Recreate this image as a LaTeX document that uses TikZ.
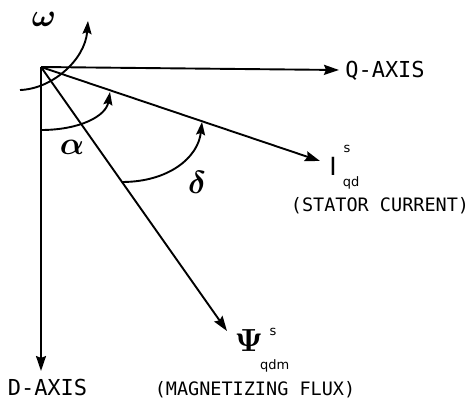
\documentclass[tikz,border=0pt]{standalone}
\usepackage{fontspec}
\usepackage{amsmath}
\usepackage{graphicx}
\setmainfont{DejaVu Sans}
\newfontfamily\plotfont{DejaVu Sans Mono}
\newcommand{\bigsym}[1]{\scalebox{3.2}{$\boldsymbol{#1}$}}
\usetikzlibrary{arrows.meta}
\begin{document}
\begin{tikzpicture}[x=1pt,y=-1pt,
  vec/.style={line width=1.9pt,-{Stealth[length=15pt,width=10pt,inset=2pt]}},
  turn/.style={line width=1.9pt,-{Stealth[length=13pt,width=9pt,inset=2pt]}},
  lbl/.style={inner sep=0pt,font=\plotfont\fontsize{18.5}{20}\selectfont},
  axl/.style={inner sep=0pt,font=\plotfont\fontsize{22}{24}\selectfont},
  sym/.style={inner sep=0pt,font=\fontsize{10}{12}\selectfont},
  sub/.style={inner sep=0pt,font=\fontsize{13}{14}\selectfont}]
\useasboundingbox (0,0) rectangle (468,403);
% points
\coordinate (O) at (41,67);
\coordinate (qtip) at (339,70);
\coordinate (dtip) at (41,371);
\coordinate (itip) at (320,161);
\coordinate (ftip) at (227,331);
\coordinate (w0) at (20,90);
\coordinate (w1) at (88,21);
\coordinate (a0) at (41,130);
\coordinate (a1) at (110,92);
\coordinate (d0) at (122,182);
\coordinate (d1) at (202,122);
% vectors
\draw[vec] (O) -- (qtip);
\draw[vec] (O) -- (dtip);
\draw[vec] (O) -- (itip);
\draw[vec] (O) -- (ftip);
% rotation and angle arcs
\draw[turn] (w0) .. controls (52,89) and (85,60) .. (w1);
\draw[turn] (a0) .. controls (80,130) and (106,116) .. (a1);
\draw[turn] (d0) .. controls (168,182) and (198,158) .. (d1);
% labels
\node[sym] (omega) at (44,19) {\bigsym{\omega}};
\node[sym] (alpha) at (72,147) {\bigsym{\alpha}};
\node[sym] (delta) at (197,182) {\bigsym{\delta}};
\node[sym] (psi) at (249,341) {\bigsym{\Psi}};
\node[sub] (psis) at (273,332) {s};
\node[sub,anchor=north west] (psisub) at (260,359) {qdm};
\node[lbl] (mf) at (255,390) {(MAGNETIZING FLUX)};
\node[inner sep=0pt,font=\fontsize{25}{27}\selectfont] (ivec) at (333,166) {I};
\node[sub] (is) at (347,149) {s};
\node[sub] (isub) at (351,183) {qd};
\node[lbl] (sc) at (380,206) {(STATOR CURRENT)};
\node[axl] (qax) at (385,70.5) {Q-AXIS};
\node[axl] (dax) at (47.5,387) {D-AXIS};
\end{tikzpicture}
\end{document}
